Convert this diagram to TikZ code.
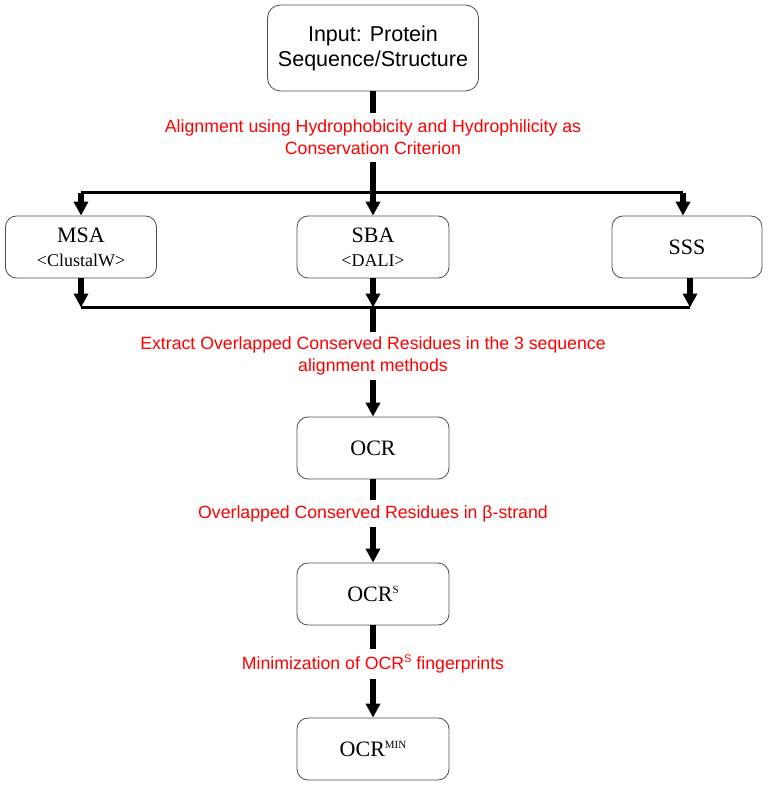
\documentclass[tikz,border=0pt]{standalone}
\usepackage{fontspec}
\setmainfont{Liberation Serif}
\setsansfont{Liberation Sans}
\usetikzlibrary{arrows.meta}
\newcommand{\smallsup}[1]{\raisebox{0.38em}{\fontsize{11}{11}\selectfont #1}}

\begin{document}
\begin{tikzpicture}[x=1pt,y=1pt,
	box/.style={draw=black!70,line width=0.8pt,rounded corners=11pt,minimum width=152pt,minimum height=62pt,align=center,font=\fontsize{22}{24}\selectfont},
	note/.style={text=red,align=center,inner sep=0pt,font=\sffamily\fontsize{17.7}{22}\selectfont},
	stem/.style={line width=6pt},
	flow/.style={line width=6pt,-{Triangle[width=14pt,length=14pt]}},
	bus/.style={line width=3pt}]
\useasboundingbox (0,0) rectangle (768,-786);
% boxes
\node[box,minimum width=211pt,minimum height=86pt,rounded corners=13pt,font=\sffamily\fontsize{21.5}{25}\selectfont] (in) at (373,-48) {Input: Protein\\Sequence/Structure};
\node[box,minimum width=151pt] (msa) at (81,-247) {MSA\\{\fontsize{18}{20}\selectfont <ClustalW>}};
\node[box] (sba) at (373,-247) {SBA\\{\fontsize{18}{20}\selectfont <DALI>}};
\node[box,minimum width=150pt] (sss) at (687,-247) {SSS};
\node[box] (ocr) at (373,-448) {OCR};
\node[box] (ocrs) at (373,-594) {OCR\smallsup{S}};
\node[box] (ocrm) at (373,-749) {OCR\smallsup{MIN}};
% red notes on the stems
\node[note,minimum height=49pt] (al) at (373,-137.5) {Alignment using Hydrophobicity and Hydrophilicity as\\Conservation Criterion};
\node[note,minimum height=48pt] (ex) at (373,-356) {Extract Overlapped Conserved Residues in the 3 sequence\\alignment methods};
\node[note,minimum height=27pt] (ov) at (373,-513.5) {Overlapped Conserved Residues in β-strand};
\node[note,minimum height=30pt] (mi) at (373,-664) {Minimization of OCR\smallsup{S} fingerprints};
% split and join lines
\coordinate (sl) at (81,-193);
\coordinate (sp) at (373,-193);
\coordinate (sr) at (683,-193);
\coordinate (jl) at (81,-307.5);
\coordinate (jm) at (373,-307.5);
\coordinate (jr) at (690,-307.5);
\draw[bus] (sl) -- (sr);
\draw[bus] (jl) -- (jr);
% connectors
\draw[stem] (in) -- (al);
\draw[stem] (al) -- (sp);
\draw[flow] (sl) -- (msa);
\draw[flow] (sp) -- (sba);
\draw[flow] (sr) -- (sr |- sss.north);
\draw[flow] (msa) -- (jl);
\draw[flow] (sba) -- (jm);
\draw[flow] (sss.south -| jr) -- (jr);
\draw[stem] (jm) -- (ex);
\draw[flow] (ex) -- (ocr);
\draw[stem] (ocr) -- (ov);
\draw[flow] (ov) -- (ocrs);
\draw[stem] (ocrs) -- (mi);
\draw[flow] (mi) -- (ocrm);
\end{tikzpicture}
\end{document}
